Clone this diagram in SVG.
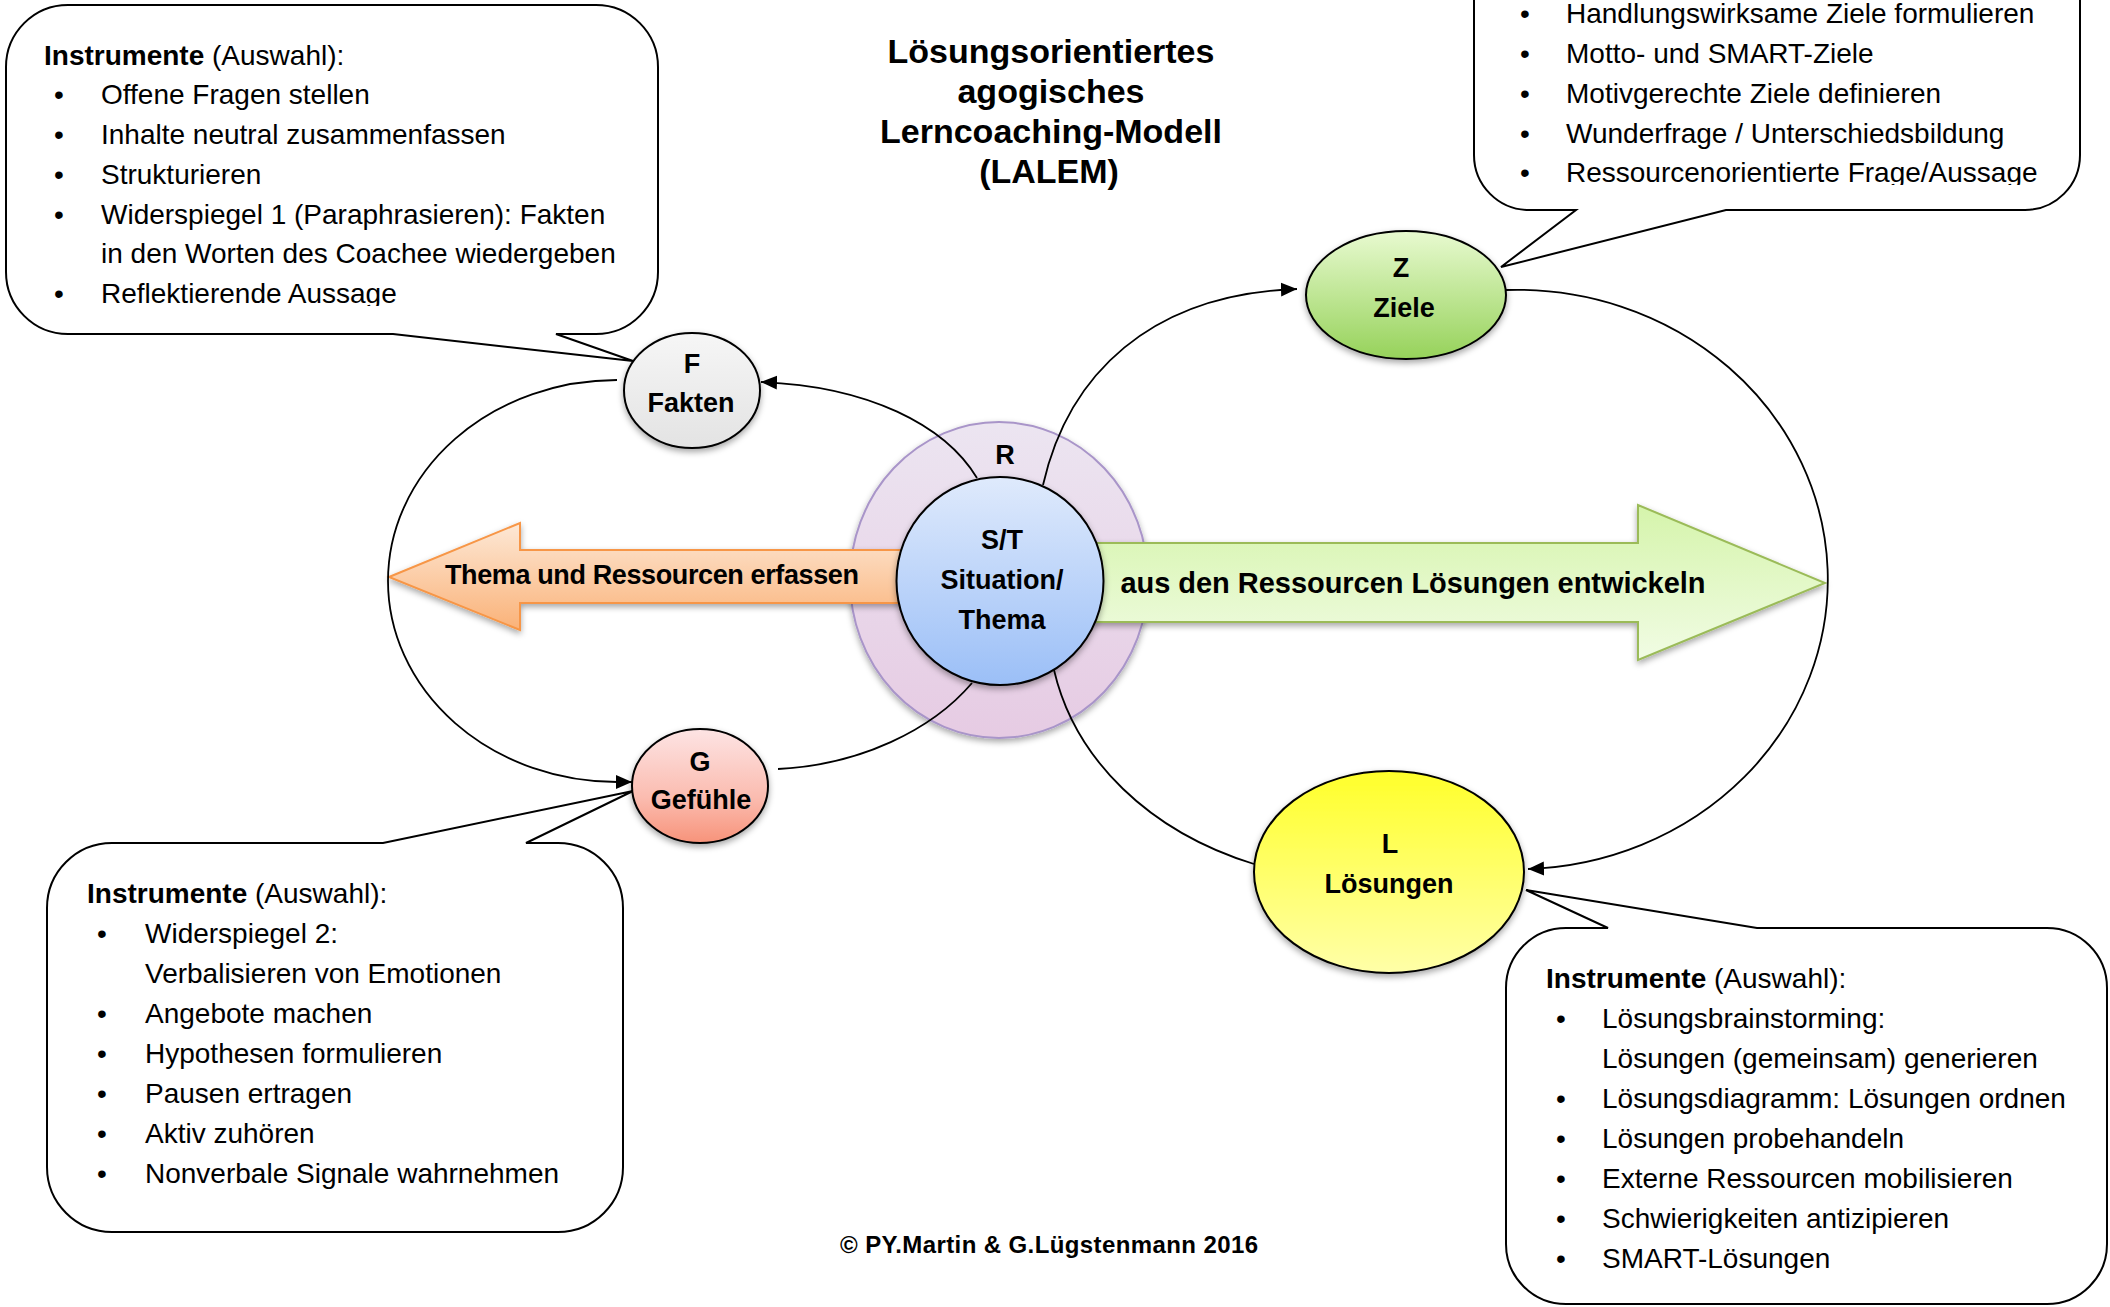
<svg xmlns="http://www.w3.org/2000/svg" width="2110" height="1307" viewBox="0 0 2110 1307">
<defs>
<style>
text{font-family:"Liberation Sans",Arial,sans-serif;fill:#000}
.t{font-size:28px}
.b{font-weight:bold}
.n{font-size:27px;font-weight:bold;text-anchor:middle}
.ttl{font-size:34px;font-weight:bold;text-anchor:middle}
.co{fill:#fff;stroke:#000;stroke-width:2}
.node{stroke:#000;stroke-width:2;filter:url(#sh)}
.con{fill:none;stroke:#000;stroke-width:1.8}
</style>
<filter id="sh" x="-20%" y="-20%" width="140%" height="150%"><feDropShadow dx="0" dy="3" stdDeviation="3" flood-color="#000" flood-opacity="0.35"/></filter>
<linearGradient id="gF" x1="0" y1="0" x2="0" y2="1"><stop offset="0" stop-color="#f6f6f6"/><stop offset="1" stop-color="#e3e3e3"/></linearGradient>
<linearGradient id="gZ" x1="0" y1="0" x2="0" y2="1"><stop offset="0" stop-color="#e8fad0"/><stop offset="1" stop-color="#96d25a"/></linearGradient>
<linearGradient id="gG" x1="0" y1="0" x2="0" y2="1"><stop offset="0" stop-color="#fde4e4"/><stop offset="0.6" stop-color="#fbbcb0"/><stop offset="1" stop-color="#f7937a"/></linearGradient>
<linearGradient id="gL" x1="0" y1="0" x2="0" y2="1"><stop offset="0" stop-color="#ffff2a"/><stop offset="1" stop-color="#ffffa8"/></linearGradient>
<linearGradient id="gS" x1="0" y1="0" x2="0" y2="1"><stop offset="0" stop-color="#dfeafc"/><stop offset="1" stop-color="#9bbff7"/></linearGradient>
<linearGradient id="gR" x1="0" y1="0" x2="0" y2="1"><stop offset="0" stop-color="#ece5f1"/><stop offset="1" stop-color="#e6cbe3"/></linearGradient>
<linearGradient id="gO" x1="0" y1="0" x2="0" y2="1"><stop offset="0" stop-color="#fde8d6"/><stop offset="1" stop-color="#fab278"/></linearGradient>
<linearGradient id="gGr" x1="0" y1="0" x2="0" y2="1"><stop offset="0" stop-color="#d5f4ab"/><stop offset="1" stop-color="#f1fce4"/></linearGradient>
<marker id="ah" markerUnits="userSpaceOnUse" markerWidth="17" markerHeight="17" refX="16" refY="8.5" orient="auto"><path d="M0,1.5 L16,8.5 L0,15.5 Z" fill="#000"/></marker>
<clipPath id="clipTL"><rect x="0" y="0" width="700" height="306"/></clipPath>
<clipPath id="clipTR"><rect x="1470" y="0" width="640" height="185"/></clipPath>
</defs>

<rect width="2110" height="1307" fill="#fff"/>

<g id="title">
<text class="ttl" x="1051" y="63">Lösungsorientiertes</text>
<text class="ttl" x="1051" y="103">agogisches</text>
<text class="ttl" x="1051" y="143">Lerncoaching-Modell</text>
<text class="ttl" x="1049" y="183">(LALEM)</text>
</g>

<g id="node-R">
<ellipse cx="999" cy="580" rx="149" ry="158" fill="url(#gR)" stroke="#a995c9" stroke-width="2" filter="url(#sh)"/>
<text class="n" x="1005" y="464">R</text>
</g>

<g id="arrow-left">
<polygon points="389,577 520,523 520,550 960,550 960,603 520,603 520,630" fill="url(#gO)" stroke="#f79646" stroke-width="2" filter="url(#sh)"/>
<text class="n" x="652" y="584" textLength="414">Thema und Ressourcen erfassen</text>
</g>

<g id="arrow-right">
<polygon points="1050,543 1638,543 1638,505 1825,583 1638,660 1638,622 1050,622" fill="url(#gGr)" stroke="#9bbb59" stroke-width="2" filter="url(#sh)"/>
<text class="n" x="1413" y="593" style="font-size:29px" textLength="585">aus den Ressourcen Lösungen entwickeln</text>
</g>

<g id="connectors">
<path class="con" d="M977 478 C945 425 868 386 761 382" marker-end="url(#ah)"/>
<path class="con" d="M617 380 A229 201 0 0 0 617 782 L632 782" marker-end="url(#ah)"/>
<path class="con" d="M778 769 C860 765 932 730 972 683"/>
<path class="con" d="M1043 485 C1068 375 1150 294 1297 289" marker-end="url(#ah)"/>
<path class="con" d="M1506 290 A309 288 0 0 1 1528 869" marker-end="url(#ah)"/>
<path class="con" d="M1054 670 C1075 760 1150 832 1254 864"/>
</g>

<g id="callout-F">
<path class="co" d="M68 5 H596 A62 62 0 0 1 658 67 V272 A62 62 0 0 1 596 334 H556 L633 361 L393 334 H68 A62 62 0 0 1 6 272 V67 A62 62 0 0 1 68 5 Z"/>
<g class="t" clip-path="url(#clipTL)">
<text x="44" y="65"><tspan class="b">Instrumente</tspan> (Auswahl):</text>
<text x="54" y="104">•</text><text x="101" y="104">Offene Fragen stellen</text>
<text x="54" y="144">•</text><text x="101" y="144">Inhalte neutral zusammenfassen</text>
<text x="54" y="184">•</text><text x="101" y="184">Strukturieren</text>
<text x="54" y="224">•</text><text x="101" y="224">Widerspiegel 1 (Paraphrasieren): Fakten</text>
<text x="101" y="263">in den Worten des Coachee wiedergeben</text>
<text x="54" y="303">•</text><text x="101" y="303">Reflektierende Aussage</text>
</g>
</g>

<g id="callout-Z">
<path class="co" d="M1529 -80 H2025 A55 55 0 0 1 2080 -25 V155 A55 55 0 0 1 2025 210 H1726 L1501 267 L1576 210 H1529 A55 55 0 0 1 1474 155 V-25 A55 55 0 0 1 1529 -80 Z"/>
<g class="t" clip-path="url(#clipTR)">
<text x="1520" y="23">•</text><text x="1566" y="23">Handlungswirksame Ziele formulieren</text>
<text x="1520" y="63">•</text><text x="1566" y="63">Motto- und SMART-Ziele</text>
<text x="1520" y="103">•</text><text x="1566" y="103">Motivgerechte Ziele definieren</text>
<text x="1520" y="143">•</text><text x="1566" y="143">Wunderfrage / Unterschiedsbildung</text>
<text x="1520" y="182">•</text><text x="1566" y="182">Ressourcenorientierte Frage/Aussage</text>
</g>
</g>

<g id="callout-G">
<path class="co" d="M112 843 H383 L633 791 L526 843 H558 A65 65 0 0 1 623 908 V1167 A65 65 0 0 1 558 1232 H112 A65 65 0 0 1 47 1167 V908 A65 65 0 0 1 112 843 Z"/>
<g class="t">
<text x="87" y="903"><tspan class="b">Instrumente</tspan> (Auswahl):</text>
<text x="97" y="943">•</text><text x="145" y="943">Widerspiegel 2:</text>
<text x="145" y="983">Verbalisieren von Emotionen</text>
<text x="97" y="1023">•</text><text x="145" y="1023">Angebote machen</text>
<text x="97" y="1063">•</text><text x="145" y="1063">Hypothesen formulieren</text>
<text x="97" y="1103">•</text><text x="145" y="1103">Pausen ertragen</text>
<text x="97" y="1143">•</text><text x="145" y="1143">Aktiv zuhören</text>
<text x="97" y="1183">•</text><text x="145" y="1183">Nonverbale Signale wahrnehmen</text>
</g>
</g>

<g id="callout-L">
<path class="co" d="M1566 928 H1608 L1526 890 L1757 928 H2047 A60 60 0 0 1 2107 988 V1244 A60 60 0 0 1 2047 1304 H1566 A60 60 0 0 1 1506 1244 V988 A60 60 0 0 1 1566 928 Z"/>
<g class="t">
<text x="1546" y="988"><tspan class="b">Instrumente</tspan> (Auswahl):</text>
<text x="1556" y="1028">•</text><text x="1602" y="1028">Lösungsbrainstorming:</text>
<text x="1602" y="1068">Lösungen (gemeinsam) generieren</text>
<text x="1556" y="1108">•</text><text x="1602" y="1108">Lösungsdiagramm: Lösungen ordnen</text>
<text x="1556" y="1148">•</text><text x="1602" y="1148">Lösungen probehandeln</text>
<text x="1556" y="1188">•</text><text x="1602" y="1188">Externe Ressourcen mobilisieren</text>
<text x="1556" y="1228">•</text><text x="1602" y="1228">Schwierigkeiten antizipieren</text>
<text x="1556" y="1268">•</text><text x="1602" y="1268">SMART-Lösungen</text>
</g>
</g>

<g id="node-ST">
<ellipse class="node" cx="1000" cy="581" rx="103.5" ry="104" fill="url(#gS)"/>
<text class="n" x="1002" y="549">S/T</text>
<text class="n" x="1002" y="589">Situation/</text>
<text class="n" x="1002" y="629">Thema</text>
</g>

<g id="node-F">
<ellipse class="node" cx="692" cy="390.5" rx="68" ry="57.5" fill="url(#gF)"/>
<text class="n" x="692" y="373">F</text>
<text class="n" x="691" y="412">Fakten</text>
</g>

<g id="node-G">
<ellipse class="node" cx="700" cy="786" rx="68" ry="57" fill="url(#gG)"/>
<text class="n" x="700" y="771">G</text>
<text class="n" x="701" y="809">Gefühle</text>
</g>

<g id="node-Z">
<ellipse class="node" cx="1406" cy="295" rx="100" ry="64" fill="url(#gZ)"/>
<text class="n" x="1401" y="277">Z</text>
<text class="n" x="1404" y="317">Ziele</text>
</g>

<g id="node-L">
<ellipse class="node" cx="1389" cy="872" rx="135" ry="101" fill="url(#gL)"/>
<text class="n" x="1390" y="853">L</text>
<text class="n" x="1389" y="893">Lösungen</text>
</g>

<g id="copyright">
<text x="1049" y="1253" font-size="24" font-weight="bold" text-anchor="middle" textLength="418">© PY.Martin &amp; G.Lügstenmann 2016</text>
</g>
</svg>
